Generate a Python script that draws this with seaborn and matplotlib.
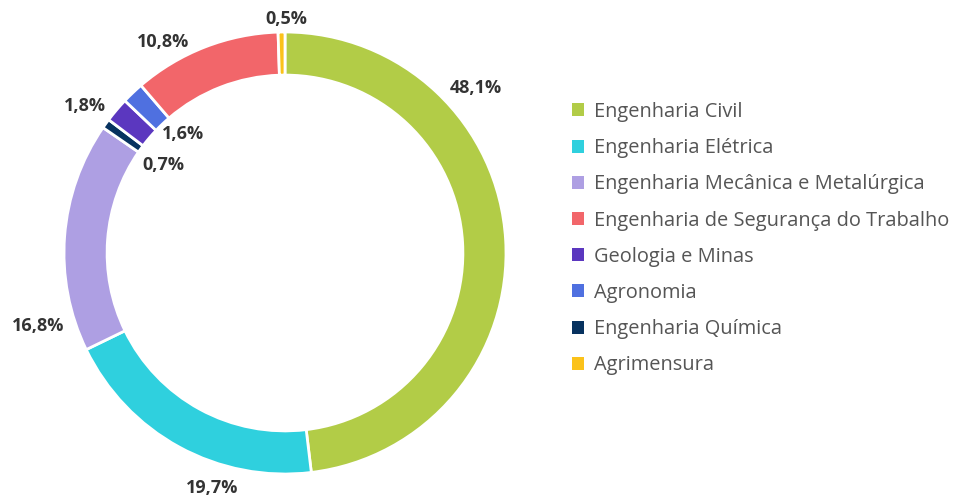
import matplotlib
matplotlib.use("Agg")
import matplotlib.pyplot as plt
import seaborn as sns

# ---------------------------------------------------------------------------
# Data (clockwise from 12 o'clock, as drawn in the ring)
# ---------------------------------------------------------------------------
categories = [
    "Engenharia Civil",
    "Engenharia Elétrica",
    "Engenharia Mecânica e Metalúrgica",
    "Engenharia Química",
    "Geologia e Minas",
    "Agronomia",
    "Engenharia de Segurança do Trabalho",
    "Agrimensura",
]
shares = [48.1, 19.7, 16.8, 0.7, 1.8, 1.6, 10.8, 0.5]
share_labels = ["48,1%", "19,7%", "16,8%", "0,7%", "1,8%", "1,6%", "10,8%", "0,5%"]

# legend order differs from ring order
legend_order = [
    "Engenharia Civil",
    "Engenharia Elétrica",
    "Engenharia Mecânica e Metalúrgica",
    "Engenharia de Segurança do Trabalho",
    "Geologia e Minas",
    "Agronomia",
    "Engenharia Química",
    "Agrimensura",
]

# ---------------------------------------------------------------------------
# Style
# ---------------------------------------------------------------------------
colours = ["#b2cc47", "#2fd0de", "#ae9fe3", "#07325f",
           "#5b37bf", "#4f70e0", "#f2666a", "#fbc21a"]

# label anchor points, in units of the outer radius
label_xy = [(0.864, 0.747), (-0.330, -1.063), (-1.118, -0.330), (-0.552, 0.398),
            (-0.905, 0.665), (-0.462, 0.538), (-0.552, 0.955), (0.005, 1.059)]

R_PX = 221          # outer radius in pixels
CX, CY = 285, 253   # ring centre (px from left / top)

sns.set_theme(style="white")
plt.rcParams["font.family"] = ["Open Sans", "DejaVu Sans"]

fig = plt.figure(figsize=(9.57, 5.01), dpi=100)

# axes box: 570 px wide, full height; 1 data unit = R_PX pixels
ax = fig.add_axes([0, 0, 570 / 957, 1])
wedges, _ = ax.pie(
    shares, colors=colours, startangle=90, counterclock=False,
    radius=1.0, wedgeprops=dict(width=0.195, edgecolor="white", linewidth=2),
)
ax.set_xlim(-CX / R_PX, (570 - CX) / R_PX)
ax.set_ylim(-(501 - CY) / R_PX, CY / R_PX)
ax.set_aspect("auto")
ax.axis("off")

for (x, y), txt in zip(label_xy, share_labels):
    ax.text(x, y, txt, ha="center", va="center", fontsize=13,
            fontweight="bold", color="#333333")

handles = [wedges[categories.index(c)] for c in legend_order]
leg = fig.legend(
    handles, legend_order, loc="upper left",
    bbox_to_anchor=(554 / 957, (501 - 84) / 501),
    frameon=False, fontsize=14.4, labelcolor="#555555",
    handlelength=0.62, handleheight=0.62, handletextpad=0.5,
    labelspacing=0.81,
)
for h in leg.legend_handles:
    h.set_edgecolor("none")

fig.savefig("out.png", dpi=100)
